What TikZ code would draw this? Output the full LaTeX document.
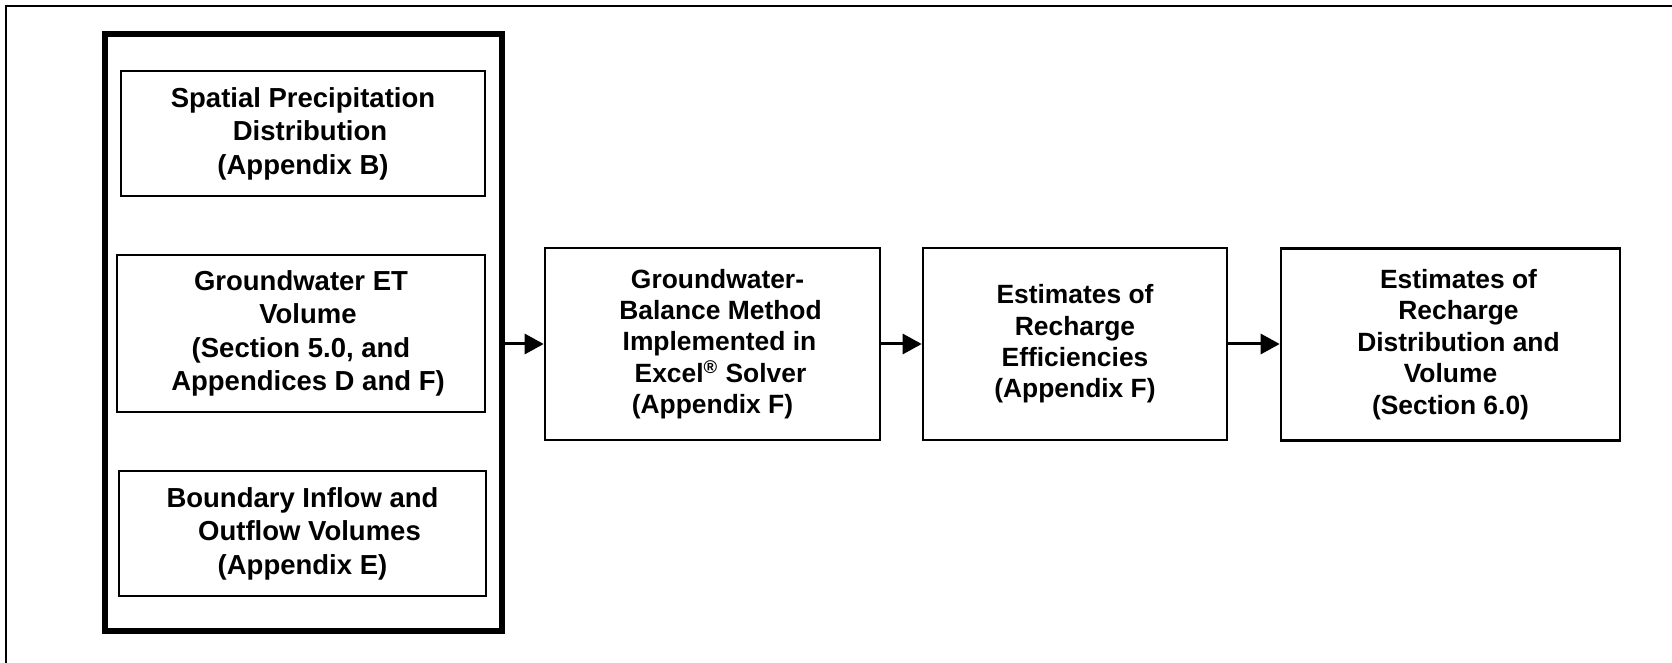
\documentclass[tikz,border=0pt]{standalone}
\usepackage{fontspec}
\setmainfont{Liberation Sans}
\usetikzlibrary{arrows.meta}
\newcommand{\lsh}[1]{\hspace*{#1pt}}
\begin{document}
\begin{tikzpicture}[x=0.5pt,y=-0.5pt,
  frameline/.style={line width=1.1pt},
  holder/.style={draw=black, line width=2.6pt, inner sep=0pt},
  leftbox/.style={draw=black, line width=1.3pt, fill=white, inner sep=0pt, align=center,
    font=\bfseries\fontsize{13.75pt}{16.75pt}\selectfont},
  rightbox/.style={draw=black, line width=1.3pt, fill=white, inner sep=0pt, align=center,
    font=\bfseries\fontsize{13.2pt}{15.7pt}\selectfont},
  arr/.style={line width=1.5pt, -{Triangle[length=9.5pt,width=10pt]}}
]
\useasboundingbox (0,0) rectangle (1672,663);
\draw[frameline] (6,663) -- (6,6) -- (1672,6);

\node[holder, minimum width=198.5pt, minimum height=298.5pt] (cont) at (303.5,332.5) {};
\node[leftbox, minimum width=182pt, minimum height=62.5pt] (b1) at (303,133.5)
  {Spatial Precipitation\\ \lsh{7}Distribution\\ (Appendix B)};
\node[leftbox, minimum width=184pt, minimum height=78.5pt] (b2) at (301,333.5)
  {Groundwater ET\\ \lsh{7}Volume\\ (Section 5.0, and\\ \lsh{7}Appendices D and F)};
\node[leftbox, minimum width=183.5pt, minimum height=62.5pt] (b3) at (302.5,533.5)
  {Boundary Inflow and\\ \lsh{7}Outflow Volumes\\ (Appendix E)};

\node[rightbox, minimum width=167.5pt, minimum height=96pt] (b4) at (712.5,344)
  {\lsh{5}Groundwater-\\ \lsh{8}Balance Method\\ \lsh{7}Implemented in\\ \lsh{8}Excel\textsuperscript{\textregistered} Solver\\ (Appendix F)};
\node[rightbox, minimum width=152pt, minimum height=96pt] (b5) at (1075,344)
  {Estimates of\\ Recharge\\ Efficiencies\\ (Appendix F)};
\node[rightbox, minimum width=169.5pt, minimum height=96pt] (b6) at (1450.5,344.5)
  {\lsh{8}Estimates of\\ \lsh{8}Recharge\\ \lsh{8}Distribution and\\ Volume\\ (Section 6.0)};

\draw[arr] (cont.east |- b4.west) -- (b4.west);
\draw[arr] (b4.east) -- (b4.east -| b5.west);
\draw[arr] (b5.east) -- (b5.east -| b6.west);
\end{tikzpicture}
\end{document}
